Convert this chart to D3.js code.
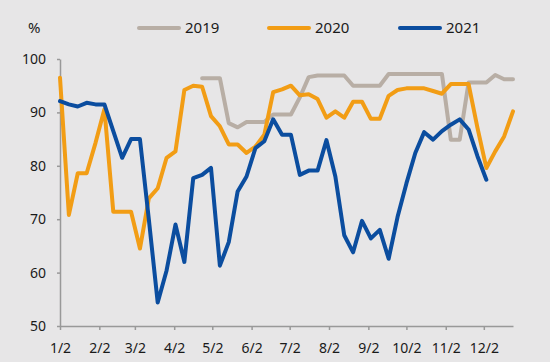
<!DOCTYPE html>
<html>
<head>
<meta charset="utf-8">
<script src="https://cdn.jsdelivr.net/npm/d3@7"></script>
<style>
  body { margin: 0; background: #e7e6e7; }
  svg { display: block; }
</style>
</head>
<body>
<svg id="chart" width="550" height="362"></svg>
<script>
// weekly observations, starting Jan 2 (52 weeks)
const seriesNames = ["2019", "2020", "2021"];
const seriesColors = ["#b8aea5", "#f29d15", "#0b4d9f"];

const values2019 = [
  null, null, null, null, null, null, null, null, null, null,
  null, null, null, null, null, null, 96.4, 96.4, 96.4, 88.0,
  87.2, 88.2, 88.2, 88.2, 89.6, 89.6, 89.6, 92.8, 96.6, 96.9,
  96.9, 96.9, 96.9, 95.0, 95.0, 95.0, 95.0, 97.2, 97.2, 97.2,
  97.2, 97.2, 97.2, 97.2, 84.9, 84.9, 95.6, 95.6, 95.6, 97.0,
  96.2, 96.2
];
const values2020 = [
  96.5, 70.8, 78.6, 78.6, 84.3, 90.6, 71.4, 71.4, 71.4, 64.5,
  73.9, 75.8, 81.5, 82.7, 94.2, 95.0, 94.8, 89.3, 87.4, 84.0,
  84.0, 82.4, 83.6, 85.8, 93.8, 94.3, 95.0, 93.2, 93.4, 92.5,
  89.0, 90.2, 89.0, 92.0, 92.0, 88.8, 88.8, 93.1, 94.2, 94.5,
  94.5, 94.5, 94.0, 93.5, 95.3, 95.3, 95.3, 87.1, 79.6, 82.7,
  85.5, 90.2
];
const values2021 = [
  92.1, 91.5, 91.1, 91.8, 91.5, 91.5, 86.5, 81.5, 85.0, 85.0,
  70.0, 54.4, 60.4, 69.0, 62.0, 77.7, 78.3, 79.6, 61.3, 65.7,
  75.2, 78.0, 83.3, 84.6, 88.7, 85.8, 85.8, 78.3, 79.1, 79.1,
  84.8, 78.0, 67.0, 63.8, 69.7, 66.4, 68.0, 62.6, 70.4, 76.7,
  82.4, 86.3, 84.9, 86.5, 87.7, 88.7, 86.8, 81.8, 77.4
];
const yTicks = [50, 60, 70, 80, 90, 100];
const xTickLabels = ["1/2", "2/2", "3/2", "4/2", "5/2", "6/2", "7/2", "8/2", "9/2", "10/2", "11/2", "12/2"];

const start = new Date(Date.UTC(2021, 0, 2));
const end = new Date(Date.UTC(2021, 11, 25));
const weeks = d3.utcDay.range(start, d3.utcDay.offset(end, 1), 7);
const monthTicks = xTickLabels.map((d, i) => new Date(Date.UTC(2021, i, 2)));

const svg = d3.select("#chart");
const font = "'Noto Sans', 'DejaVu Sans', sans-serif";

svg.append("rect").attr("width", 550).attr("height", 362).attr("fill", "#e7e6e7");

const x = d3.scaleUtc().domain([start, end]).range([60, 513]);
const y = d3.scaleLinear().domain([50, 100]).range([326, 59]);

// axes
const xAxis = svg.append("g")
  .attr("transform", "translate(0,326)")
  .call(d3.axisBottom(x)
    .tickValues(monthTicks)
    .tickFormat((d, i) => xTickLabels[i])
    .tickSizeInner(4).tickSizeOuter(0).tickPadding(13));

const yAxis = svg.append("g")
  .attr("transform", "translate(60,0)")
  .call(d3.axisLeft(y)
    .tickValues(yTicks)
    .tickSizeInner(3).tickSizeOuter(0).tickPadding(11));

[xAxis, yAxis].forEach(g => {
  g.select(".domain").attr("stroke", "#999").attr("stroke-width", 1.5);
  g.selectAll(".tick line").attr("stroke", "#999").attr("stroke-width", 1.5);
  g.selectAll(".tick text")
    .attr("fill", "#1a1a1a")
    .style("font-family", font)
    .style("font-size", "14px");
});

// lines
const line = d3.line()
  .defined(d => d.v != null)
  .x(d => x(d.date))
  .y(d => y(d.v));

[values2019, values2020, values2021].forEach((vals, k) => {
  const pts = vals.map((v, i) => ({ date: weeks[i], v: v }));
  svg.append("path")
    .datum(pts)
    .attr("fill", "none")
    .attr("stroke", seriesColors[k])
    .attr("stroke-width", 4)
    .attr("stroke-linejoin", "round")
    .attr("stroke-linecap", "round")
    .attr("d", line);
});

// unit label
svg.append("text")
  .attr("x", 28).attr("y", 33)
  .attr("fill", "#1a1a1a")
  .style("font-family", font)
  .style("font-size", "15px")
  .text("%");

// legend
const legendX = [139, 269, 400];
seriesNames.forEach((name, k) => {
  svg.append("line")
    .attr("x1", legendX[k]).attr("x2", legendX[k] + 40)
    .attr("y1", 28).attr("y2", 28)
    .attr("stroke", seriesColors[k])
    .attr("stroke-width", 4)
    .attr("stroke-linecap", "round");
  svg.append("text")
    .attr("x", legendX[k] + 46).attr("y", 33)
    .attr("fill", "#1a1a1a")
    .style("font-family", font)
    .style("font-size", "15px")
    .text(name);
});
</script>
</body>
</html>
